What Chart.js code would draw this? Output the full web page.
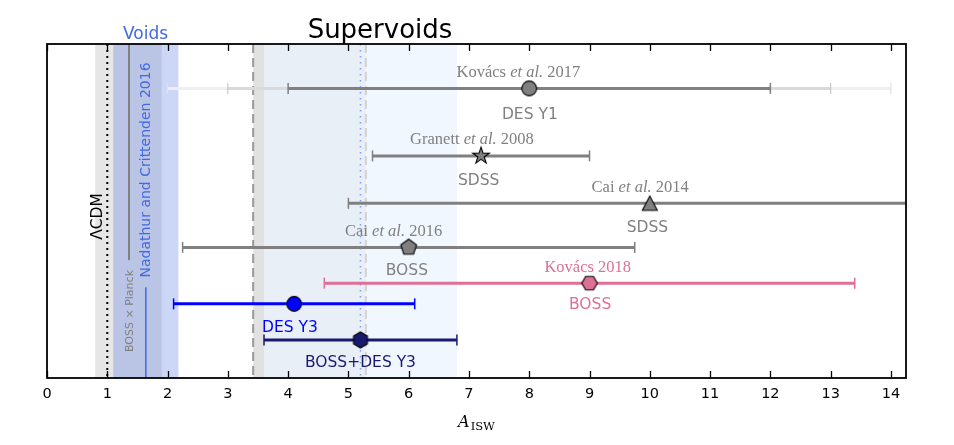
<!DOCTYPE html>
<html>
<head>
<meta charset="utf-8">
<script src="https://cdn.jsdelivr.net/npm/chart.js@4/dist/chart.umd.min.js"></script>
<style>
html,body{margin:0;padding:0;background:#fff;}
#wrap{width:954px;height:445px;}
</style>
</head>
<body>
<div id="wrap"><canvas id="c" width="954" height="445"></canvas></div>
<script>
// ---------------- DATA ----------------
const surveys    = ['DES Y1', 'SDSS', 'SDSS', 'BOSS', 'BOSS', 'DES Y3', 'BOSS+DES Y3'];
const references = ['Kovács et al. 2017', 'Granett et al. 2008', 'Cai et al. 2014', 'Cai et al. 2016', 'Kovács 2018', '', ''];
const central    = [8.0, 7.2, 10.0, 6.0, 9.0, 4.1, 5.2];
const lower      = [4.0, 5.4, 5.0, 2.25, 4.6, 2.1, 3.6];
const upper      = [12.0, 9.0, 15.0, 9.75, 13.4, 6.1, 6.8];
const rowLevel   = [8.67, 6.65, 5.23, 3.91, 2.84, 2.22, 1.14];
// Kovács et al. 2017: wider (fainter) intervals
const kovacsWideLower = [3.0, 2.0];
const kovacsWideUpper = [13.0, 14.0];
// x-axis ticks
const xTickValues = [0,1,2,3,4,5,6,7,8,9,10,11,12,13,14];
const xMin = 0, xMax = 14.25;
// reference values (vertical lines / bands)
const lcdmValue        = 1.0;
const bossPlanckValue  = 1.36;
const bossPlanckBand   = [0.8, 1.9];
const bossPlanckLineSpan = [3.53, 10];
const nadathurValue    = 1.64;
const nadathurBand     = [1.1, 2.18];
const nadathurLineSpan = [0, 2.72];
const averaStrip       = [3.42, 3.6];
const averaBand        = [3.42, 5.29];
const averaValues      = [3.42, 5.29];
const supervoidBand    = [3.6, 6.8];
const combinedValue    = 5.2;

// ---------------- STYLE ----------------
const GRAY = '#808080', PINK = '#dd7094', BLUE = '#0000ff', NAVY = '#191970', ROYAL = '#4169e1';
const rowColor = [GRAY, GRAY, GRAY, GRAY, PINK, BLUE, NAVY];
const rowMarker = ['circle', 'star', 'triangle', 'pentagon', 'hexH', 'circle', 'hexh'];
// label placement: x in data units, dy in px from row (alphabetic baseline)
const labelPlacement = [
  {refX: 7.82, refDy: -11.5, surX: 8.01, surDy: 30.5},
  {refX: 7.05, refDy: -11.5, surX: 7.16, surDy: 29},
  {refX: 9.84, refDy: -11.5, surX: 9.96, surDy: 29},
  {refX: 5.75, refDy: -11.8, surX: 5.97, surDy: 27.5},
  {refX: 8.97, refDy: -11.2, surX: 9.01, surDy: 26},
  {refX: 0,    refDy: 0,     surX: 4.03, surDy: 27.7},
  {refX: 0,    refDy: 0,     surX: 5.2,  surDy: 27.5}
];

function markerImage(shape, fill) {
  const s = 22;
  const c = document.createElement('canvas');
  c.width = s; c.height = s;
  const g = c.getContext('2d');
  g.translate(s / 2, s / 2);
  g.beginPath();
  const poly = (n, r, rot) => {
    for (let i = 0; i < n; i++) {
      const a = rot + i * 2 * Math.PI / n;
      const x = r * Math.cos(a), y = r * Math.sin(a);
      if (i === 0) g.moveTo(x, y); else g.lineTo(x, y);
    }
  };
  if (shape === 'circle') {
    g.arc(0, 0, 7.4, 0, 2 * Math.PI);
  } else if (shape === 'star') {
    const R = 8.8, r = R * 0.382;
    for (let i = 0; i < 10; i++) {
      const a = -Math.PI / 2 + i * Math.PI / 5;
      const rr = (i % 2) ? r : R;
      const x = rr * Math.cos(a), y = rr * Math.sin(a);
      if (i === 0) g.moveTo(x, y); else g.lineTo(x, y);
    }
  } else if (shape === 'triangle') {
    g.moveTo(0, -7.3); g.lineTo(7.5, 7); g.lineTo(-7.5, 7);
  } else if (shape === 'pentagon') {
    poly(5, 8.3, -Math.PI / 2);
  } else if (shape === 'hexH') {
    poly(6, 7.8, 0);
  } else if (shape === 'hexh') {
    poly(6, 8.0, -Math.PI / 2);
  }
  g.closePath();
  g.fillStyle = fill;
  g.fill();
  g.lineWidth = 1.1;
  g.strokeStyle = '#000';
  g.stroke();
  return c;
}

// ---------------- DATASETS ----------------
const datasets = [];
// markers (drawn on top)
datasets.push({
  label: 'markers',
  data: central.map((v, i) => ({x: v, y: rowLevel[i]})),
  pointStyle: central.map((v, i) => markerImage(rowMarker[i], rowColor[i])),
  pointRadius: 8,
  showLine: false,
  order: 0,
  clip: 0
});
// error bars
central.forEach((v, i) => {
  datasets.push({
    label: 'err' + i,
    data: [{x: lower[i], y: rowLevel[i]}, {x: upper[i], y: rowLevel[i]}],
    showLine: true,
    borderColor: rowColor[i],
    borderWidth: 3,
    pointStyle: 'line',
    pointRotation: 90,
    pointRadius: 5.5,
    pointBorderWidth: 1.5,
    pointBorderColor: rowColor[i],
    order: 1,
    clip: 0
  });
});
// Kovács 2017 faint wider intervals
const wideColors = ['#dadada', '#efefef'];
const wideCapColors = ['#c8c8c8', '#e2e2e2'];
kovacsWideLower.forEach((lo, k) => {
  datasets.push({
    label: 'wide' + k,
    data: [{x: lo, y: rowLevel[0]}, {x: kovacsWideUpper[k], y: rowLevel[0]}],
    showLine: true,
    borderColor: wideColors[k],
    borderWidth: 3,
    pointStyle: 'line',
    pointRotation: 90,
    pointRadius: 5.5,
    pointBorderWidth: 1.2,
    pointBorderColor: wideCapColors[k],
    order: 2 + k,
    clip: 0
  });
});

// ---------------- DECORATION PLUGIN ----------------
const SERIF = '"Liberation Serif", "Times New Roman", serif';
const SANS = '"DejaVu Sans", sans-serif';

function drawRef(ctx, text, cx, base, color) {
  const parts = [];
  const idx = text.indexOf('et al.');
  if (idx >= 0) {
    parts.push({t: text.slice(0, idx), f: '16.5px ' + SERIF});
    parts.push({t: 'et al.', f: 'italic 16.5px ' + SERIF});
    parts.push({t: text.slice(idx + 6), f: '16.5px ' + SERIF});
  } else {
    parts.push({t: text, f: '16.5px ' + SERIF});
  }
  let total = 0;
  parts.forEach(p => { ctx.font = p.f; p.w = ctx.measureText(p.t).width; total += p.w; });
  let x = cx - total / 2;
  ctx.textAlign = 'left';
  ctx.textBaseline = 'alphabetic';
  ctx.fillStyle = color;
  parts.forEach(p => { ctx.font = p.f; ctx.fillText(p.t, x, base); x += p.w; });
}

function vline(ctx, x, y0, y1, color, width, dash) {
  ctx.save();
  ctx.beginPath();
  ctx.strokeStyle = color;
  ctx.lineWidth = width;
  ctx.setLineDash(dash || []);
  ctx.moveTo(x, y0);
  ctx.lineTo(x, y1);
  ctx.stroke();
  ctx.restore();
}

function rotatedText(ctx, text, x, y, font, color) {
  ctx.save();
  ctx.translate(x, y);
  ctx.rotate(-Math.PI / 2);
  ctx.font = font;
  ctx.fillStyle = color;
  ctx.textAlign = 'center';
  ctx.textBaseline = 'alphabetic';
  ctx.fillText(text, 0, 0);
  ctx.restore();
}

const decor = {
  id: 'decor',
  beforeDatasetsDraw(chart) {
    const {ctx, chartArea: a, scales: {x, y}} = chart;
    const X = v => x.getPixelForValue(v), Y = v => y.getPixelForValue(v);
    ctx.save();
    ctx.beginPath();
    ctx.rect(a.left, a.top, a.right - a.left, a.bottom - a.top);
    ctx.clip();
    const band = (b, color) => { ctx.fillStyle = color; ctx.fillRect(X(b[0]), a.top, X(b[1]) - X(b[0]), a.bottom - a.top); };
    band(bossPlanckBand, '#e6e6e6');
    band(nadathurBand, 'rgba(65,105,225,0.27)');
    band(supervoidBand, '#f1f7fe');
    band(averaStrip, '#e9e9e9');
    band(averaBand, 'rgba(0,0,30,0.03)');
    // lines
    vline(ctx, X(lcdmValue), a.top, a.bottom, '#000', 2, [2, 4]);
    vline(ctx, X(bossPlanckValue), Y(bossPlanckLineSpan[1]), Y(bossPlanckLineSpan[0]), GRAY, 2);
    vline(ctx, X(nadathurValue), Y(nadathurLineSpan[1]), Y(nadathurLineSpan[0]), ROYAL, 1.5);
    vline(ctx, X(averaValues[0]), a.top, a.bottom, '#999999', 2, [9, 5]);
    vline(ctx, X(averaValues[1]), a.top, a.bottom, '#d2d2d2', 2, [9, 5]);
    vline(ctx, X(combinedValue), a.top, a.bottom, '#7f9fe8', 1.5, [1.5, 4.5]);
    ctx.restore();
  },
  afterDatasetsDraw(chart) {
    const {ctx, chartArea: a, scales: {x, y}} = chart;
    const X = v => x.getPixelForValue(v), Y = v => y.getPixelForValue(v);
    ctx.save();
    // annotations
    surveys.forEach((s, i) => {
      const lp = labelPlacement[i];
      const ry = Y(rowLevel[i]);
      if (references[i]) drawRef(ctx, references[i], X(lp.refX), ry + lp.refDy, rowColor[i]);
      ctx.font = '15.5px ' + SANS;
      ctx.fillStyle = rowColor[i];
      ctx.textAlign = 'center';
      ctx.textBaseline = 'alphabetic';
      ctx.fillText(s, X(lp.surX), ry + lp.surDy);
    });
    // rotated labels
    rotatedText(ctx, 'ΛCDM', 102, 216.5, '15.5px ' + SANS, '#000');
    rotatedText(ctx, 'BOSS × Planck', 132.5, 311, '11px ' + SANS, GRAY);
    rotatedText(ctx, 'Nadathur and Crittenden 2016', 149.5, 170, '14px ' + SANS, ROYAL);
    // frame
    ctx.strokeStyle = '#000';
    ctx.lineWidth = 1.8;
    ctx.setLineDash([]);
    ctx.strokeRect(a.left, a.top, a.right - a.left, a.bottom - a.top);
    // inward ticks top & bottom
    ctx.lineWidth = 1.3;
    x.ticks.forEach(t => {
      const p = Math.round(X(t.value)) + 0.5;
      ctx.beginPath();
      ctx.moveTo(p, a.bottom); ctx.lineTo(p, a.bottom - 7);
      ctx.moveTo(p, a.top); ctx.lineTo(p, a.top + 7);
      ctx.stroke();
    });
    ctx.restore();
  },
  afterDraw(chart) {
    const {ctx, chartArea: a} = chart;
    ctx.save();
    ctx.textBaseline = 'alphabetic';
    ctx.textAlign = 'center';
    ctx.font = '17px ' + SANS;
    ctx.fillStyle = ROYAL;
    ctx.fillText('Voids', 145.5, 39);
    ctx.font = '26px ' + SANS;
    ctx.fillStyle = '#000';
    ctx.fillText('Supervoids', 380, 38);
    // x-axis title A_ISW
    const fA = 'italic 16px "DejaVu Serif", serif', fS = '11.5px "DejaVu Serif", serif';
    ctx.font = fA; const wA = ctx.measureText('A').width;
    ctx.font = fS; const wS = ctx.measureText('ISW').width;
    const cx = (a.left + a.right) / 2;
    const x0 = cx - (wA + wS + 1) / 2;
    ctx.textAlign = 'left';
    ctx.font = fA; ctx.fillText('A', x0, 426.7);
    ctx.font = fS; ctx.fillText('ISW', x0 + wA + 1, 429.5);
    ctx.restore();
  }
};

new Chart(document.getElementById('c'), {
  type: 'scatter',
  data: {datasets},
  options: {
    responsive: false,
    animation: false,
    devicePixelRatio: 1,
    events: [],
    layout: {padding: {left: 47, right: 48, top: 44, bottom: 0}},
    plugins: {legend: {display: false}, tooltip: {enabled: false}},
    scales: {
      x: {
        type: 'linear',
        min: xMin,
        max: xMax,
        afterFit: s => { s.height = 67; },
        afterBuildTicks: s => { s.ticks = xTickValues.map(v => ({value: v})); },
        ticks: {
          stepSize: 1,
          includeBounds: false,
          autoSkip: false,
          maxRotation: 0,
          color: '#000',
          padding: 0,
          font: {family: 'DejaVu Sans', size: 14.5}
        },
        grid: {display: false},
        border: {display: false}
      },
      y: {type: 'linear', min: 0, max: 10, display: false}
    }
  },
  plugins: [decor]
});
</script>
</body>
</html>
